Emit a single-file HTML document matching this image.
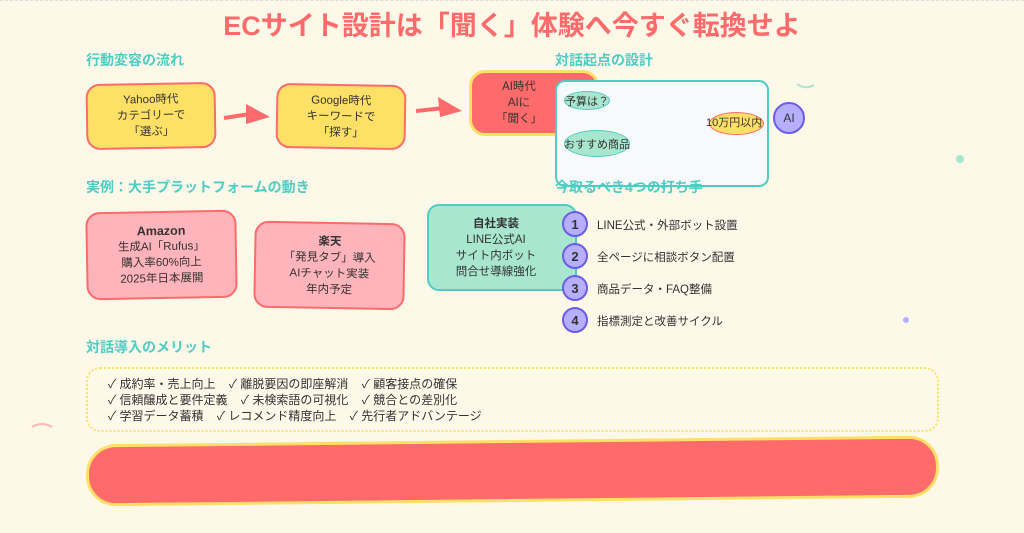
<!DOCTYPE html>
<html><head><meta charset="utf-8"><style>
*{margin:0;padding:0;box-sizing:border-box}
body{width:1024px;height:533px;background:#fef8e8;position:relative;overflow:hidden;font-family:"Liberation Sans","Noto Sans CJK JP",sans-serif;color:#333}
.a{position:absolute}
.h{position:absolute;color:#4ecdc4;font-weight:bold;font-size:14px;white-space:nowrap}
.box{position:absolute;display:flex;flex-direction:column;justify-content:center;align-items:center;text-align:center;font-size:11.5px;line-height:16px;border-radius:14px}
.y{background:#ffe066;border:2px solid #ff6b6b}
.p{background:#ffb3ba;border:2px solid #ff6b6b}
.num{position:absolute;width:26px;height:26px;border-radius:50%;background:#b4b0ff;border:2px solid #6c5ce7;font-weight:bold;font-size:13px;display:flex;align-items:center;justify-content:center}
.it{position:absolute;font-size:11.5px;white-space:nowrap}
.ell{position:absolute;border-radius:50%;font-size:11px;white-space:nowrap;display:flex;align-items:center;justify-content:center}
</style></head><body>
<div class="a" style="left:0;top:0;width:1024px;border-top:1px dashed #ddd"></div>
<div class="a" style="left:0;top:4px;width:1024px;text-align:center;color:#ff6b6b;font-weight:bold;font-size:27px">ECサイト設計は「聞く」体験へ今すぐ転換せよ</div>

<div class="h" style="left:86px;top:50px">行動変容の流れ</div>
<div class="h" style="left:555px;top:50px">対話起点の設計</div>
<div class="h" style="left:86px;top:177px">実例：大手プラットフォームの動き</div>

<div class="box y" style="left:86px;top:83px;width:130px;height:66px;transform:rotate(-1deg)">Yahoo時代<br>カテゴリーで<br>「選ぶ」</div>
<div class="box y" style="left:276px;top:84px;width:130px;height:65px;transform:rotate(1deg)">Google時代<br>キーワードで<br>「探す」</div>
<svg class="a" style="left:0;top:0" width="1024" height="533">
<path d="M224 118 L250 114" stroke="#ff6b6b" stroke-width="4"/><polygon points="246,104 270,117 246,124" fill="#ff6b6b"/>
<path d="M416 111 L444 108" stroke="#ff6b6b" stroke-width="4"/><polygon points="438,97 462,111 440,117" fill="#ff6b6b"/>
<path d="M797 84 Q805 90 814 85" stroke="#a8e6cf" stroke-width="2" fill="none"/>
<circle cx="960" cy="159" r="4" fill="#a8e6cf"/>
<circle cx="906" cy="320" r="3" fill="#b4b0ff"/>
<path d="M32 427 Q42 421 52 427" stroke="#ffb3ba" stroke-width="2" fill="none"/>
</svg>
<div class="box" style="left:469px;top:70px;width:130px;height:66px;background:#ff6b6b;border:3px solid #ffe066;border-radius:16px;padding-right:30px">AI時代<br>AIに<br>「聞く」</div>
<div class="a" style="left:555px;top:80px;width:214px;height:107px;background:#f7f9fa;border:2px solid #4ecdc4;border-radius:10px"></div>
<div class="ell" style="left:564px;top:91px;width:46px;height:19px;background:#a8e6cf;border:1.5px solid #4ecdc4">予算は？</div>
<div class="ell" style="left:564px;top:130px;width:66px;height:27px;background:#a8e6cf;border:1.5px solid #4ecdc4">おすすめ商品</div>
<div class="ell" style="left:709px;top:112px;width:55px;height:23px;background:#ffe066;border:1.5px solid #ff6b6b"></div>
<div class="it" style="left:706px;top:114px;font-size:11px">10万円以内</div>
<div class="num" style="left:773px;top:102px;width:32px;height:32px;font-weight:normal;font-size:12px">AI</div>
<div class="h" style="left:555px;top:177px">今取るべき4つの打ち手</div>

<div class="box p" style="left:86px;top:211px;width:151px;height:88px;transform:rotate(-1deg)"><b style="font-size:12.5px">Amazon</b>生成AI「Rufus」<br>購入率60%向上<br>2025年日本展開</div>
<div class="box p" style="left:254px;top:222px;width:151px;height:87px;transform:rotate(1deg)"><b>楽天</b>「発見タブ」導入<br>AIチャット実装<br>年内予定</div>
<div class="box" style="left:427px;top:204px;width:150px;height:87px;background:#a8e6cf;border:2px solid #4ecdc4;border-radius:12px;padding-right:12px"><b>自社実装</b>LINE公式AI<br>サイト内ボット<br>問合せ導線強化</div>

<div class="num" style="left:562px;top:211px">1</div><div class="it" style="left:597px;top:217px">LINE公式・外部ボット設置</div>
<div class="num" style="left:562px;top:243px">2</div><div class="it" style="left:597px;top:249px">全ページに相談ボタン配置</div>
<div class="num" style="left:562px;top:275px">3</div><div class="it" style="left:597px;top:281px">商品データ・FAQ整備</div>
<div class="num" style="left:562px;top:307px">4</div><div class="it" style="left:597px;top:313px">指標測定と改善サイクル</div>

<div class="h" style="left:86px;top:337px">対話導入のメリット</div>
<div class="a" style="left:86px;top:367px;width:853px;height:65px;border:2px dotted #ffe066;border-radius:14px"></div>
<div class="it" style="left:108px;top:376px;font-size:12px;line-height:16px;word-spacing:0">✓ 成約率・売上向上&nbsp;&nbsp;&nbsp; ✓ 離脱要因の即座解消&nbsp;&nbsp;&nbsp; ✓ 顧客接点の確保<br>✓ 信頼醸成と要件定義&nbsp;&nbsp;&nbsp; ✓ 未検索語の可視化&nbsp;&nbsp;&nbsp; ✓ 競合との差別化<br>✓ 学習データ蓄積&nbsp;&nbsp;&nbsp; ✓ レコメンド精度向上&nbsp;&nbsp;&nbsp; ✓ 先行者アドバンテージ</div>
<div class="a" style="left:86px;top:440px;width:853px;height:62px;background:#ff6b6b;border:3px solid #ffe066;border-radius:30px;transform:rotate(-0.6deg)"></div>
</body></html>
